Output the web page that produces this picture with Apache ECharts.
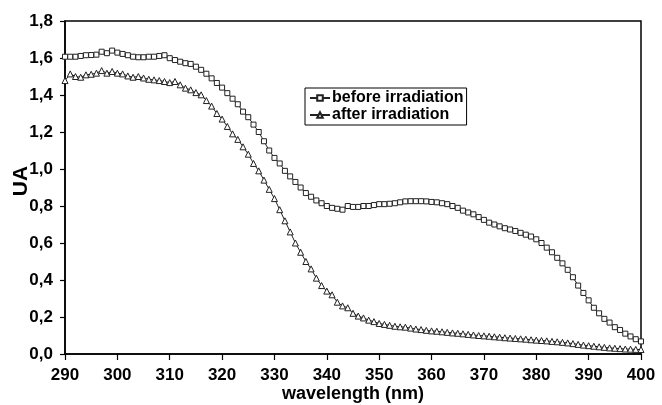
<!DOCTYPE html>
<html>
<head>
<meta charset="utf-8">
<script src="https://cdn.jsdelivr.net/npm/echarts@6/dist/echarts.min.js"></script>
<style>
  html, body { margin: 0; padding: 0; background: #fff; }
  #main { width: 662px; height: 405px; }
</style>
</head>
<body>
<div id="main"></div>
<script>
// wavelength 290..400 nm, one point per nm
var wavelength = [];
for (var w = 290; w <= 400; w++) wavelength.push(w);

var beforeIrr = [
  1.607, 1.607, 1.607, 1.611, 1.615, 1.616, 1.618, 1.634, 1.626, 1.640,
  1.629, 1.622, 1.615, 1.607, 1.604, 1.604, 1.607, 1.607, 1.611, 1.615,
  1.599, 1.589, 1.580, 1.572, 1.568, 1.553, 1.536, 1.515, 1.490, 1.465,
  1.440, 1.410, 1.380, 1.350, 1.310, 1.280, 1.240, 1.200, 1.150, 1.100,
  1.060, 1.030, 0.990, 0.960, 0.930, 0.900, 0.870, 0.850, 0.830, 0.815,
  0.800, 0.790, 0.785, 0.780, 0.800, 0.795, 0.795, 0.800, 0.800, 0.805,
  0.810, 0.810, 0.812, 0.815, 0.820, 0.825, 0.826, 0.826, 0.826, 0.825,
  0.822, 0.820, 0.815, 0.810, 0.800, 0.790, 0.775, 0.765, 0.755, 0.740,
  0.725, 0.710, 0.700, 0.690, 0.680, 0.673, 0.665, 0.655, 0.645, 0.635,
  0.620, 0.600, 0.575, 0.550, 0.520, 0.490, 0.455, 0.415, 0.370, 0.330,
  0.290, 0.250, 0.220, 0.190, 0.170, 0.145, 0.130, 0.110, 0.095, 0.080,
  0.068
];

var afterIrr = [
  1.478, 1.514, 1.500, 1.496, 1.509, 1.512, 1.518, 1.532, 1.518, 1.527,
  1.518, 1.514, 1.503, 1.496, 1.500, 1.492, 1.485, 1.482, 1.478, 1.473,
  1.467, 1.473, 1.455, 1.437, 1.428, 1.413, 1.401, 1.370, 1.340, 1.300,
  1.270, 1.230, 1.190, 1.160, 1.120, 1.080, 1.030, 0.990, 0.940, 0.890,
  0.840, 0.780, 0.720, 0.660, 0.600, 0.550, 0.500, 0.460, 0.410, 0.370,
  0.340, 0.320, 0.280, 0.260, 0.250, 0.220, 0.205, 0.195, 0.183, 0.175,
  0.165, 0.160, 0.155, 0.150, 0.147, 0.145, 0.140, 0.135, 0.132, 0.128,
  0.125, 0.123, 0.120, 0.117, 0.114, 0.112, 0.109, 0.106, 0.103, 0.100,
  0.098, 0.096, 0.093, 0.091, 0.088, 0.086, 0.084, 0.082, 0.080, 0.077,
  0.075, 0.073, 0.071, 0.068, 0.066, 0.063, 0.060, 0.056, 0.052, 0.048,
  0.045, 0.042, 0.039, 0.036, 0.033, 0.031, 0.029, 0.027, 0.026, 0.025,
  0.024
];

function pairs(ys) {
  return ys.map(function (y, i) { return [wavelength[i], y]; });
}

var chart = echarts.init(document.getElementById('main'), null, { renderer: 'canvas' });
var font = 'Liberation Sans, Arial, sans-serif';

var option = {
  backgroundColor: '#fff',
  animation: false,
  grid: {
    left: 65, right: 21, top: 21, bottom: 51,
    containLabel: false,
    outerBoundsMode: 'none',
    show: true, borderColor: '#000', borderWidth: 1.5, backgroundColor: 'transparent'
  },
  legend: {
    orient: 'vertical',
    left: 305, top: 88,
    padding: [2, 3, 2, 4],
    itemGap: 1,
    itemWidth: 20, itemHeight: 7,
    borderColor: '#000', borderWidth: 1,
    textStyle: { fontFamily: font, fontWeight: 'bold', fontSize: 16, color: '#000', padding: [0, 0, 0, -3] },
    data: ['before irradiation', 'after irradiation']
  },
  xAxis: {
    type: 'value',
    min: 290, max: 400, interval: 10,
    name: 'wavelength (nm)',
    nameLocation: 'middle',
    nameGap: 31,
    nameMoveOverlap: false,
    nameTextStyle: { fontFamily: font, fontWeight: 'bold', fontSize: 18, color: '#000' },
    axisLine: { show: true, lineStyle: { color: '#000', width: 1.5 } },
    axisTick: { show: true, length: 6, lineStyle: { color: '#000', width: 1.2 } },
    axisLabel: { fontFamily: font, fontWeight: 'bold', fontSize: 17, color: '#000', margin: 13 },
    splitLine: { show: false }
  },
  yAxis: {
    type: 'value',
    min: 0, max: 1.8, interval: 0.2,
    name: 'UA',
    nameLocation: 'middle',
    nameGap: 33,
    nameMoveOverlap: false,
    nameRotate: 90,
    nameTextStyle: { fontFamily: font, fontWeight: 'bold', fontSize: 21, color: '#000', padding: [0, 0, 0, 13] },
    axisLine: { show: true, lineStyle: { color: '#000', width: 1.5 } },
    axisTick: { show: true, length: 5, lineStyle: { color: '#000', width: 1.2 } },
    axisLabel: {
      fontFamily: font, fontWeight: 'bold', fontSize: 17, color: '#000', margin: 12,
      formatter: function (v) { return v.toFixed(1).replace('.', ','); }
    },
    splitLine: { show: false }
  },
  series: [
    {
      name: 'before irradiation',
      type: 'line',
      data: pairs(beforeIrr),
      symbol: 'rect',
      symbolSize: 5,
      showAllSymbol: true,
      lineStyle: { color: '#222', width: 1 },
      itemStyle: { color: '#fff', borderColor: '#222', borderWidth: 1 }
    },
    {
      name: 'after irradiation',
      type: 'line',
      data: pairs(afterIrr),
      symbol: 'triangle',
      symbolSize: 6,
      showAllSymbol: true,
      lineStyle: { color: '#222', width: 1 },
      itemStyle: { color: '#fff', borderColor: '#222', borderWidth: 1 }
    }
  ]
};

chart.setOption(option);
</script>
</body>
</html>
